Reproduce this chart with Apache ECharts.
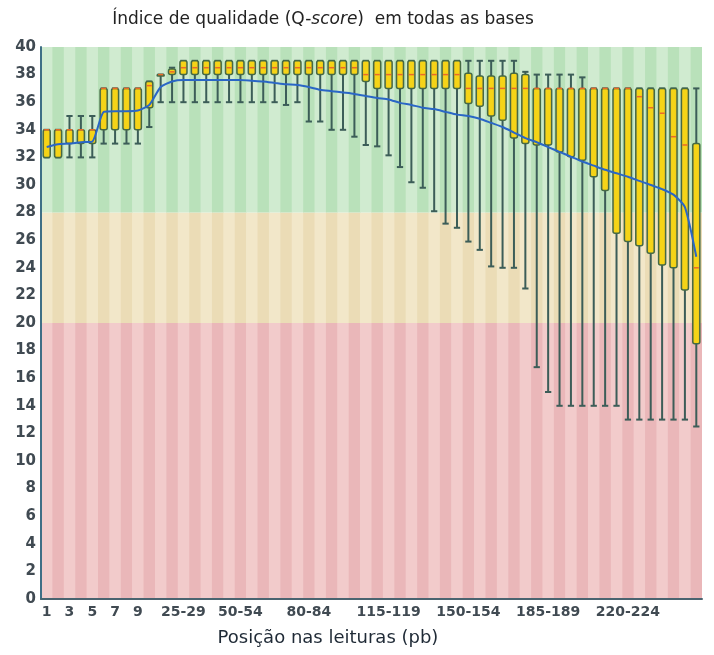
<!DOCTYPE html>
<html>
<head>
<meta charset="utf-8">
<script src="https://cdn.jsdelivr.net/npm/echarts@6/dist/echarts.min.js"></script>
<style>
html,body{margin:0;padding:0;background:#fff;}
#chart{width:714px;height:655px;}
</style>
</head>
<body>
<div id="chart"></div>
<script>
var categories = ['1','2','3','4','5','6','7','8','9','10-14','15-19','20-24','25-29','30-34','35-39','40-44','45-49','50-54','55-59','60-64','65-69','70-74','75-79','80-84','85-89','90-94','95-99','100-104','105-109','110-114','115-119','120-124','125-129','130-134','135-139','140-144','145-149','150-154','155-159','160-164','165-169','170-174','175-179','180-184','185-189','190-194','195-199','200-204','205-209','210-214','215-219','220-224','225-229','230-234','235-239','240-244','245-249','250-251'];

var lowWhisker = [32,32,32,32,32,33,33,33,33,34.2,36,36,36,36,36,36,36,36,36,36,36,35.8,36,34.6,34.6,34.0,34.0,33.5,32.9,32.8,32.15,31.3,30.2,29.8,28.1,27.2,26.9,25.9,25.3,24.1,24.0,24.0,22.5,16.8,15.0,14,14,14,14,14,14,13,13,13,13,13,13,12.5];

var lowerQuartile = [32,32,33,33,33,34,34,34,34,35.6,37.9,38,38,38,38,38,38,38,38,38,38,38,38,38,38,38,38,38,37.5,37,37,37,37,37,37,37,37,35.9,35.7,35.0,34.7,33.4,33.0,32.9,32.9,32.4,32.05,31.8,30.6,29.6,26.5,25.9,25.6,25.05,24.2,24.0,22.4,18.5];

var median = [34,34,34,34,34,37,37,37,37,37.2,38,38.2,38.5,38.5,38.5,38.5,38.5,38.5,38.5,38.5,38.5,38.5,38.5,38.5,38.5,38.5,38.5,38.5,38,38,38,38,38,38,38,38,38,37,37,37,37,37,37,37,37,37,37,37,37,37,37,37,36.4,35.6,35.2,33.5,32.9,24];

var upperQuartile = [34,34,34,34,34,37,37,37,37,37.5,38,38.4,39,39,39,39,39,39,39,39,39,39,39,39,39,39,39,39,39,39,39,39,39,39,39,39,39,38.1,37.9,37.9,37.9,38.1,38.0,37,37,37,37,37,37,37,37,37,37,37,37,37,37,33];

var highWhisker = [34,34,35,35,35,37,37,37,37,37.5,38,38.5,39,39,39,39,39,39,39,39,39,39,39,39,39,39,39,39,39,39,39,39,39,39,39,39,39,39,39,39,39,39,38.2,38,38,38,38,37.8,37,37,37,37,37,37,37,37,37,37];

var meanQuality = [32.75,32.95,33.0,33.1,33.15,35.3,35.35,35.35,35.4,35.8,37.1,37.5,37.6,37.6,37.6,37.6,37.6,37.6,37.55,37.5,37.4,37.3,37.25,37.1,36.9,36.8,36.7,36.6,36.45,36.3,36.2,35.95,35.8,35.6,35.5,35.3,35.1,35.0,34.8,34.5,34.2,33.8,33.4,33.1,32.75,32.4,32.05,31.7,31.4,31.1,30.85,30.6,30.3,30.0,29.7,29.3,28.4,24.8];

var shownLabels = ['1','3','5','7','9','25-29','50-54','80-84','115-119','150-154','185-189','220-224'];

var zoneBounds = [0, 20, 28, 40];
var zoneColors = [
  ['#f2cbcb', '#eab7b9'],   // red  (0-20)
  ['#f2e7c9', '#ebdcb6'],   // yellow (20-28)
  ['#d0ebd0', '#b9e1ba']    // green (28-40)
];

var chart = echarts.init(document.getElementById('chart'), null, {renderer: 'canvas'});

var bgData = categories.map(function (c, i) { return [i]; });
var boxData = categories.map(function (c, i) {
  return [i, lowWhisker[i], lowerQuartile[i], median[i], upperQuartile[i], highWhisker[i]];
});

function renderBackground(params, api) {
  var idx = api.value(0);
  var w = api.size([1, 0])[0];
  var children = [];
  for (var z = 0; z < 3; z++) {
    var top = api.coord([idx, zoneBounds[z + 1]]);
    var bot = api.coord([idx, zoneBounds[z]]);
    children.push({
      type: 'rect',
      shape: {x: top[0] - w / 2, y: top[1], width: w + 0.6, height: bot[1] - top[1]},
      style: {fill: zoneColors[z][idx % 2]}
    });
  }
  return {type: 'group', children: children, silent: true};
}

var boxFill = new echarts.graphic.LinearGradient(0, 0, 1, 0, [
  {offset: 0, color: '#e6a62a'},
  {offset: 0.3, color: '#f5d417'},
  {offset: 0.7, color: '#f5d417'},
  {offset: 1, color: '#e6a62a'}
]);

function renderBox(params, api) {
  var idx = api.value(0);
  var pLow = api.coord([idx, api.value(1)]);
  var pQ1 = api.coord([idx, api.value(2)]);
  var pMed = api.coord([idx, api.value(3)]);
  var pQ3 = api.coord([idx, api.value(4)]);
  var pHigh = api.coord([idx, api.value(5)]);
  var band = api.size([1, 0])[0];
  var bw = band * 0.62;
  var cw = band * 0.55;
  var x = pLow[0];
  var wColor = '#3c5d58';
  var children = [
    {type: 'line', shape: {x1: x, y1: pHigh[1], x2: x, y2: pLow[1]}, style: {stroke: wColor, lineWidth: 2}},
    {type: 'line', shape: {x1: x - cw / 2, y1: pLow[1], x2: x + cw / 2, y2: pLow[1]}, style: {stroke: wColor, lineWidth: 2}},
    {type: 'line', shape: {x1: x - cw / 2, y1: pHigh[1], x2: x + cw / 2, y2: pHigh[1]}, style: {stroke: wColor, lineWidth: 2}},
    {type: 'rect', shape: {x: x - bw / 2, y: pQ3[1], width: bw, height: Math.max(pQ1[1] - pQ3[1], 1.5), r: 2},
      style: {fill: boxFill, stroke: '#466a44', lineWidth: 1.5}},
    {type: 'line', shape: {x1: x - bw / 2 + 1, y1: pMed[1], x2: x + bw / 2 - 1, y2: pMed[1]}, style: {stroke: '#ea6a2a', lineWidth: 1.5}}
  ];
  return {type: 'group', children: children};
}

var option = {
  backgroundColor: '#ffffff',
  animation: false,
  grid: {left: 41, right: 12, top: 47, bottom: 56, containLabel: false},
  xAxis: {
    type: 'category',
    data: categories,
    boundaryGap: true,
    axisLine: {show: true, lineStyle: {color: '#4a6470', width: 2}},
    axisTick: {show: false},
    splitLine: {show: false},
    axisLabel: {
      interval: function (index, value) { return shownLabels.indexOf(value) >= 0; },
      color: '#404a52',
      fontFamily: 'DejaVu Sans',
      fontWeight: 'bold',
      fontSize: 14,
      margin: 6,
      hideOverlap: false
    }
  },
  yAxis: {
    type: 'value',
    min: 0,
    max: 40,
    interval: 2,
    axisLine: {show: true, lineStyle: {color: '#3f6f86', width: 2}},
    axisTick: {show: false},
    splitLine: {show: false},
    axisLabel: {
      color: '#404a52',
      fontFamily: 'DejaVu Sans',
      fontWeight: 'bold',
      fontSize: 15,
      margin: 5
    }
  },
  graphic: [
    {
      type: 'text', x: 323, y: 20,
      style: {
        text: 'Índice de qualidade (Q-{i|score})  em todas as bases',
        align: 'center', verticalAlign: 'middle',
        fill: '#222222',
        font: '17px "DejaVu Sans"',
        rich: {i: {fontStyle: 'italic', fontSize: 17, fontFamily: 'DejaVu Sans', fill: '#222222'}}
      }
    },
    {
      type: 'text', x: 328, y: 638,
      style: {
        text: 'Posição nas leituras (pb)',
        align: 'center', verticalAlign: 'middle',
        fill: '#1f2a36',
        font: '18px "DejaVu Sans"'
      }
    }
  ],
  series: [
    {
      type: 'custom',
      name: 'zones',
      data: bgData,
      renderItem: renderBackground,
      silent: true,
      z: 0,
      clip: true
    },
    {
      type: 'custom',
      name: 'boxes',
      data: boxData,
      renderItem: renderBox,
      encode: {x: 0, y: [1, 2, 3, 4, 5]},
      z: 2,
      clip: true
    },
    {
      type: 'line',
      name: 'média',
      data: meanQuality,
      symbol: 'none',
      smooth: 0.2,
      lineStyle: {color: '#2a66c6', width: 2},
      z: 3
    }
  ]
};
chart.setOption(option);
</script>
</body>
</html>
